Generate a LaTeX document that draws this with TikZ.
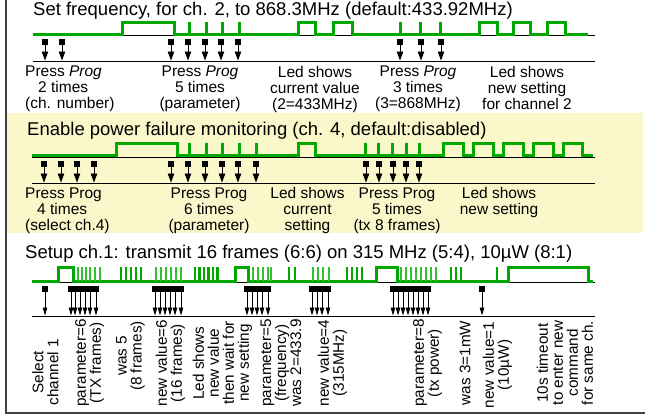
\documentclass[tikz,border=0pt]{standalone}
\usepackage{fontspec}
\setmainfont{Liberation Sans}
\usetikzlibrary{arrows.meta}
\definecolor{wgreen}{HTML}{00A800}
\definecolor{lgreen}{HTML}{30C030}
\definecolor{band}{HTML}{FAF8CA}
\definecolor{framec}{HTML}{404040}
\begin{document}
\begin{tikzpicture}[x=1pt,y=-1pt,
  wave/.style={draw=wgreen,line width=3pt,line join=miter,line cap=butt},
  thinsp/.style={draw=lgreen,line width=1.1pt},
  boldsp/.style={draw=wgreen,line width=2.5pt},
  baseln/.style={draw=black,line width=0.8pt},
  sq/.style={fill=black,minimum width=6.5pt,minimum height=6pt,inner sep=0pt,outer sep=0pt},
  pressarrow/.style={draw=black,line width=0.8pt,-{Triangle[width=6.5pt,length=9pt]}},
  pressarrowsm/.style={draw=black,line width=0.8pt,-{Triangle[width=4.5pt,length=8pt]}},
  title/.style={anchor=base west,inner sep=0pt,font=\fontsize{18.5}{20}\selectfont},
  lbl/.style={anchor=north,inner sep=0pt,align=center,font=\fontsize{15.5}{16}\selectfont},
  lbll/.style={anchor=north west,inner sep=0pt,align=left,font=\fontsize{15.5}{16}\selectfont},
  vlbl/.style={rotate=90,inner sep=0pt,align=center,font=\fontsize{15.3}{15}\selectfont},
]
\useasboundingbox (0,0) rectangle (645,416);
\fill[white] (0,0) rectangle (645,416);
% yellow band
\fill[band] (6.5,113) rectangle (643,233);
% frame
\draw[framec,line width=2pt] (5.5,0) -- (5.5,412.5) -- (645,412.5);

%================ Section 1
\node[title] (t1) at (33,15) {Set frequency, for ch. 2, to 868.3MHz (default:433.92MHz)};
\coordinate (s1a) at (33,35.5); \coordinate (s1b) at (595,35.5);
\coordinate (s1c) at (33,61);   \coordinate (s1d) at (595,61);
\draw[baseln] (s1a) -- (s1b);
\draw[baseln] (s1c) -- (s1d);
\draw[wave] (33,34) -- (122,34) -- (122,22) -- (174,22) -- (174,34)
  -- (298,34) -- (298,22) -- (315,22) -- (315,34)
  -- (333,34) -- (333,22) -- (352,22) -- (352,34)
  -- (479,34) -- (479,22) -- (497,22) -- (497,34)
  -- (513,34) -- (513,22) -- (530,22) -- (530,34)
  -- (547,34) -- (547,22) -- (565,22) -- (565,34) -- (588,34);
\foreach \x in {189,206,222,239,400,420,440}{\draw[wave] (\x,35) -- (\x,22);}
\foreach \x [count=\i] in {45,62,171,188,205,221,238,400,421,441}{
  \node[sq] (pa\i) at (\x,42) {};
  \coordinate (pb\i) at (\x,60.5);
  \draw[pressarrow] (pa\i.south) -- (pb\i);
}
\node[lbll] (l11) at (25,66) {Press \textit{Prog}\\\hspace*{13pt}2 times\\(ch. number)};
\node[lbl] (l12) at (200,66) {Press \textit{Prog}\\5 times\\(parameter)};
\node[lbl] (l13) at (315,66) {Led shows\\current value\\(2=433MHz)};
\node[lbl] (l14) at (418,66) {Press \textit{Prog}\\3 times\\(3=868MHz)};
\node[lbl] (l15) at (527,66) {Led shows\\new setting\\for channel 2};

%================ Section 2
\node[title] (t2) at (27,135) {Enable power failure monitoring (ch. 4, default:disabled)};
\coordinate (s2a) at (32,157); \coordinate (s2b) at (595,157);
\coordinate (s2c) at (32,183); \coordinate (s2d) at (595,183);
\draw[baseln] (s2a) -- (s2b);
\draw[baseln] (s2c) -- (s2d);
\draw[wave] (32,155.5) -- (116,155.5) -- (116,143) -- (177,143) -- (177,155.5)
  -- (298,155.5) -- (298,143) -- (315,143) -- (315,155.5)
  -- (443,155.5) -- (443,143) -- (463,143) -- (463,155.5)
  -- (473,155.5) -- (473,143) -- (493,143) -- (493,155.5)
  -- (503,155.5) -- (503,143) -- (523,143) -- (523,155.5)
  -- (533,155.5) -- (533,143) -- (553,143) -- (553,155.5)
  -- (563,155.5) -- (563,143) -- (582,143) -- (582,155.5) -- (593,155.5);
\foreach \x in {189,206,222,239,256,365,378,392,406,419}{\draw[wave] (\x,156.5) -- (\x,143);}
\foreach \x [count=\i] in {44,61,77,94,171,188,205,222,238,256,366,379,393,406,419}{
  \node[sq] (qa\i) at (\x,164) {};
  \coordinate (qb\i) at (\x,182.5);
  \draw[pressarrow] (qa\i.south) -- (qb\i);
}
\node[lbll] (l21) at (25,187.5) {Press Prog\\\hspace*{12pt}4 times\\(select ch.4)};
\node[lbl] (l22) at (209,187.5) {Press Prog\\6 times\\(parameter)};
\node[lbl] (l23) at (307.5,187.5) {Led shows\\current\\setting};
\node[lbl] (l24) at (397,187.5) {Press Prog\\5 times\\(tx 8 frames)};
\node[lbl] (l25) at (499,187.5) {Led shows\\new setting};

%================ Section 3
\node[title] (t3) at (25,258) {Setup ch.1: transmit 16 frames (6:6) on 315 MHz (5:4), 10\textmu W (8:1)};
\coordinate (s3a) at (32,282.5); \coordinate (s3b) at (595,282.5);
\coordinate (s3c) at (32,316);   \coordinate (s3d) at (595,316);
\draw[baseln] (s3a) -- (s3b);
\draw[baseln] (s3c) -- (s3d);
\draw[wave] (32,281) -- (58,281) -- (58,267) -- (73,267) -- (73,281)
  -- (235,281) -- (235,267) -- (248,267) -- (248,281)
  -- (376,281) -- (376,267) -- (397,267) -- (397,281)
  -- (508,281) -- (508,267) -- (588,267) -- (588,281) -- (593,281);
\foreach \x in {78,82,86,90,95,100, 156,161,166,171,176,181, 253,258,263,268,271, 313,318,323,329, 401,406,411,416,421,426,431,436}{\draw[thinsp] (\x,281) -- (\x,267);}
\foreach \x in {121,126,131,136,141, 195,199.5,204,208.5,213,217.5, 289,295, 347,352,357,362, 451,456,461, 497}{\draw[boldsp] (\x,282) -- (\x,267);}
\foreach \x [count=\i] in {45, 71,75,80,85,90,96, 155,160,165,170,175,181, 247,252,257,262,268, 312,317,322,328, 393,398,403,408,413,418,423,428, 482}{
  \node[sq] (ra\i) at (\x,289) {};
  \coordinate (rb\i) at (\x,315.5);
  \draw[pressarrowsm] (ra\i.south) -- (rb\i);
}
\node[vlbl] (v1) at (45.5,372) {Select\\channel 1};
\node[vlbl] (v2) at (89.5,363) {parameter=6\\(TX frames)};
\node[vlbl] (v3) at (130.5,356) {was 5\\(8 frames)};
\node[vlbl] (v4) at (170.5,363) {new value=6\\(16 frames)};
\node[vlbl] (v5) at (222.5,363) {Led shows\\new value\\then wait for\\new setting};
\node[vlbl] (v6) at (281,363) {parameter=5\\(frequency)\\was 2=433.9};
\node[vlbl] (v7) at (332.5,363) {new value=4\\(315MHz)};
\node[vlbl] (v8) at (427.5,363) {parameter=8\\(tx power)};
\node[vlbl] (v9) at (465,363) {was 3=1mW};
\node[vlbl] (v10) at (497.5,365) {new value=1\\(10\textmu W)};
\node[vlbl] (v11) at (565,363) {10s timeout\\to enter new\\command\\for same ch.};
\end{tikzpicture}
\end{document}
